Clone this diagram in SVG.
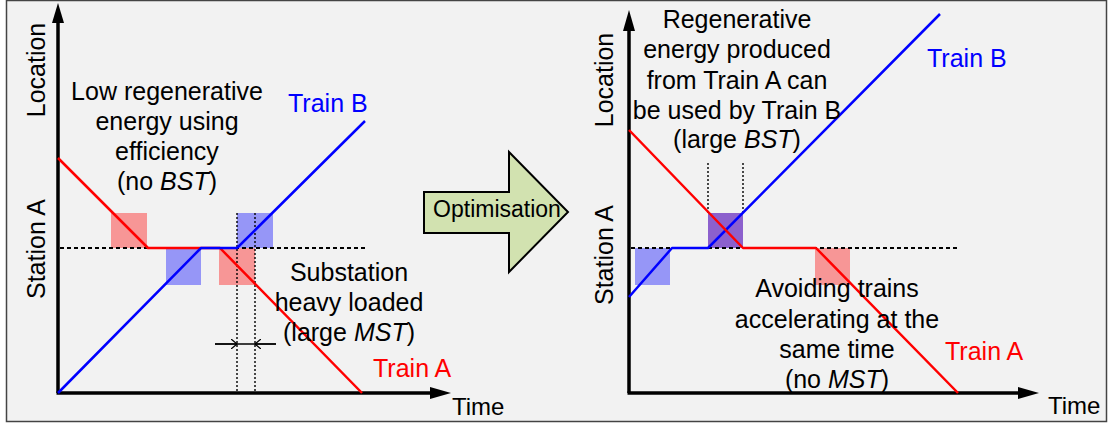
<svg xmlns="http://www.w3.org/2000/svg" width="1108" height="426" viewBox="0 0 1108 426">
<defs>
<style>
text{font-family:"Liberation Sans",Arial,sans-serif;font-size:25px;fill:#000}
.c{text-anchor:middle}
.red{fill:#ff0000}
.blue{fill:#0000ff}
.axis{stroke:#000;stroke-width:3.5;fill:none}
.head{fill:#000;stroke:none}
.ta{stroke:#ff0000;stroke-width:2.5;fill:none;stroke-linejoin:round}
.tb{stroke:#0000ff;stroke-width:2.5;fill:none;stroke-linejoin:round}
.dash{stroke:#000;stroke-width:2;stroke-dasharray:4 3;fill:none}
.dot{stroke:#000;stroke-width:1.4;stroke-dasharray:2 2;fill:none}
.rs{fill:#ff0000;fill-opacity:0.38}
.bs{fill:#0000ff;fill-opacity:0.38}
.ps{fill:#6a2fc0;fill-opacity:0.75}
</style>
<marker id="chev" markerWidth="8" markerHeight="10" refX="6" refY="5" orient="auto" markerUnits="userSpaceOnUse">
<path d="M0,0 L6,5 L0,10" fill="none" stroke="#000" stroke-width="1.3"/>
</marker>
</defs>
<rect x="0" y="0" width="1108" height="426" fill="#ffffff"/>
<rect id="frame" x="6.5" y="0.5" width="1100" height="421" fill="#f2f2f2" stroke="#444" stroke-width="1.5"/>

<!-- LEFT CHART -->
<g id="left-axes">
<line class="axis" x1="58" y1="393" x2="58" y2="20"/>
<polygon class="head" points="58,3 52,23 64,23"/>
<line class="axis" x1="56.5" y1="393" x2="432" y2="393"/>
<polygon class="head" points="451,393 430,387 430,399"/>
<text x="452" y="415" style="font-size:24px">Time</text>
<text transform="translate(45,70) rotate(-90)" class="c">Location</text>
<text transform="translate(45,249) rotate(-90)" class="c">Station A</text>
</g>

<g id="left-squares">
<rect class="rs" x="111" y="213" width="36" height="35"/>
<rect class="bs" x="166" y="248" width="35" height="37"/>
<rect class="rs" x="219" y="248" width="36" height="37"/>
<rect class="bs" x="237" y="213" width="36" height="35"/>
</g>

<g id="left-connectors">
<line class="dash" x1="60" y1="248" x2="366" y2="248"/>
<line class="dot" x1="237" y1="213" x2="237" y2="391"/>
<line class="dot" x1="255" y1="213" x2="255" y2="391"/>
<line x1="215" y1="344" x2="276" y2="344" stroke="#000" stroke-width="1.3"/>
<line x1="215" y1="344" x2="237" y2="344" stroke="#000" stroke-width="1.3" marker-end="url(#chev)"/>
<line x1="276" y1="344" x2="255" y2="344" stroke="#000" stroke-width="1.3" marker-end="url(#chev)"/>
<polyline id="left-train-a" class="ta" points="58,158 148,248 220,248 362,393"/>
<polyline id="left-train-b" class="tb" points="58,393 201,248 237,248 365,121"/>
</g>

<g id="left-labels">
<text class="c" x="167" y="100">Low regenerative</text>
<text class="c" x="167" y="130">energy using</text>
<text class="c" x="167" y="160">efficiency</text>
<text class="c" x="167" y="190">(no <tspan font-style="italic">BST</tspan>)</text>
<text class="c" x="349" y="281">Substation</text>
<text class="c" x="349" y="311">heavy loaded</text>
<text class="c" x="349" y="341">(large <tspan font-style="italic">MST</tspan>)</text>
<text class="blue" x="288" y="112">Train B</text>
<text class="red" x="373" y="377">Train A</text>
</g>

<!-- OPTIMISATION ARROW -->
<g id="optimisation">
<polygon points="424,192 509,192 509,152 568,212 509,272 509,233 424,233" fill="#d2e2b0" stroke="#000" stroke-width="2" stroke-linejoin="miter"/>
<text class="c" x="497" y="217" style="font-size:23px">Optimisation</text>
</g>

<!-- RIGHT CHART -->
<g id="right-axes">
<line class="axis" x1="629" y1="393" x2="629" y2="28"/>
<polygon class="head" points="629,10 623,31 635,31"/>
<line class="axis" x1="627.5" y1="393" x2="1020" y2="393"/>
<polygon class="head" points="1039,393 1018,387 1018,399"/>
<text x="1048" y="414" style="font-size:24px">Time</text>
<text transform="translate(613,80) rotate(-90)" class="c">Location</text>
<text transform="translate(613,255) rotate(-90)" class="c">Station A</text>
</g>

<g id="right-squares">
<rect class="bs" x="635" y="248" width="35" height="37"/>
<rect class="ps" x="708" y="213" width="35" height="35"/>
<rect class="rs" x="815" y="248" width="35" height="37"/>
</g>

<g id="right-connectors">
<line class="dash" x1="631" y1="248" x2="960" y2="248"/>
<line class="dot" x1="708" y1="163" x2="708" y2="213"/>
<line class="dot" x1="743" y1="163" x2="743" y2="213"/>
<polyline id="right-train-b" class="tb" points="629,297 672,248 708,248 940,14"/>
<polyline id="right-train-a" class="ta" points="629,130 743,248 816,248 958,393"/>
</g>

<g id="right-labels">
<text class="c" x="737" y="28">Regenerative</text>
<text class="c" x="737" y="58">energy produced</text>
<text class="c" x="737" y="89">from Train A can</text>
<text class="c" x="737" y="119">be used by Train B</text>
<text class="c" x="737" y="148">(large <tspan font-style="italic">BST</tspan>)</text>
<text class="c" x="837" y="297">Avoiding trains</text>
<text class="c" x="837" y="328">accelerating at the</text>
<text class="c" x="837" y="358">same time</text>
<text class="c" x="837" y="388">(no <tspan font-style="italic">MST</tspan>)</text>
<text class="blue" x="927" y="67">Train B</text>
<text class="red" x="945" y="360">Train A</text>
</g>
</svg>
